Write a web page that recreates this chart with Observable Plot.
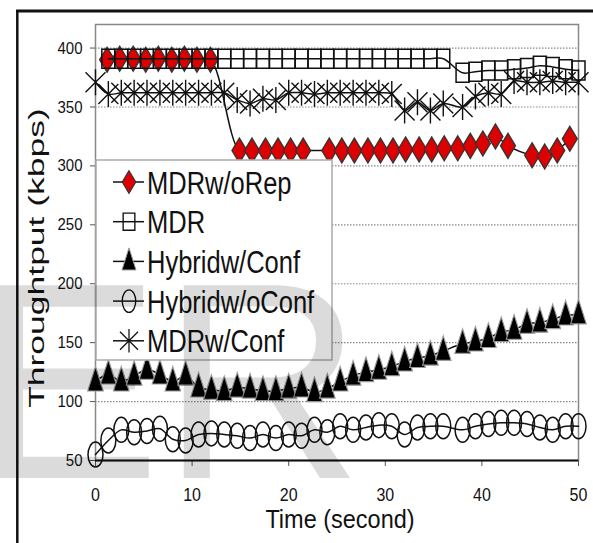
<!DOCTYPE html>
<html><head><meta charset="utf-8">
<script src="https://cdn.jsdelivr.net/npm/d3@7"></script>
<script src="https://cdn.jsdelivr.net/npm/@observablehq/plot@0.6"></script>
<style>
html,body{margin:0;padding:0;background:#fff;}
#chart{position:relative;width:593px;height:543px;overflow:hidden;}
</style></head><body><div id="chart"></div>
<script>
// ---- data ----
const seriesNames = ["MDRw/oRep", "MDR", "Hybridw/Conf", "Hybridw/oConf", "MDRw/Conf"];
const timeGrid = [0,1.33,2.67,4,5.33,6.67,8,9.33,10.67,12,13.33,14.67,16,17.33,18.67,20,21.33,22.67,24,25.33,26.67,28,29.33,30.67,32,33.33,34.67,36,38,39.33,40.67,42,43.33,44.67,46,47.33,48.67,50];
const mdrWoRepTime = [1.2,2.5,3.9,5.2,6.5,7.9,9.2,10.5,11.9,14.9,16.2,17.6,18.9,20.2,21.5,24.2,25.5,26.8,28.2,29.5,30.8,32.1,33.5,34.8,36.1,37.5,38.8,40.1,41.4,42.7,45.2,46.5,47.8,49.1];
const mdrWoRepValues = [390,391,391,390,391,390,391,390,390,313,313,313,313,313,313,313,313,313,313,313,313,314,314,314,315,315,317,319,325,317,309,308,313,323];
const mdrValues = [null,391,391,391,391,391,391,391,391,391,391,391,391,391,391,391,391,391,391,391,391,391,391,391,391,391,391,391,379,380,381,381,382,383,385,384,382,381];
const hybridConfValues = [117,123,117,122,127,123,117,122,112,110,109,112,111,109,109,111,112,108,111,117,122,125,127,130,134,137,139,143,149,151,154,159,161,166,167,170,173,174];
const hybridWoConfValues = [55,67,76,74,75,77,68,67,72,73,72,71,69,72,69,72,71,76,74,79,76,78,80,79,72,78,79,79,76,79,81,82,82,81,78,76,79,79];
const mdrConfValues = [371,361,362,362,362,362,362,362,362,362,362,356,353,357,356,362,362,361,362,362,362,362,362,361,347,354,347,353,350,359,362,361,372,371,371,372,371,371];
const xTicks = [0,10,20,30,40,50];
const yTicks = [50,100,150,200,250,300,350,400];
const gridTicks = [100,150,200,250,300,350,400];

// ---- marker shapes (tall, like the stretched original) ----
const diamondSym = {draw(c){c.moveTo(0,-12.5);c.lineTo(7.5,0);c.lineTo(0,12.5);c.lineTo(-7.5,0);c.closePath();}};
const squareSym = {draw(c){c.moveTo(-6.5,-9.5);c.lineTo(6.5,-9.5);c.lineTo(6.5,9.5);c.lineTo(-6.5,9.5);c.closePath();}};
const triangleSym = {draw(c){c.moveTo(0,-15);c.lineTo(7.8,9.5);c.lineTo(-7.8,9.5);c.closePath();}};
const ellipseSym = {draw(c){const rx=7.5, ry=12.5, k=0.5523;
  c.moveTo(rx,0);
  c.bezierCurveTo(rx,ry*k,rx*k,ry,0,ry);
  c.bezierCurveTo(-rx*k,ry,-rx,ry*k,-rx,0);
  c.bezierCurveTo(-rx,-ry*k,-rx*k,-ry,0,-ry);
  c.bezierCurveTo(rx*k,-ry,rx,-ry*k,rx,0);
  c.closePath();}};
const asteriskSym = {draw(c){c.moveTo(0,-13);c.lineTo(0,13);c.moveTo(-10,-10);c.lineTo(10,10);c.moveTo(10,-10);c.lineTo(-10,10);}};

const toRows = (times, values) => times.map((t, i) => ({t, v: values[i]}));
const dRep = toRows(mdrWoRepTime, mdrWoRepValues);
const dMdr = toRows(timeGrid, mdrValues);
const dHyb = toRows(timeGrid, hybridConfValues);
const dHybWo = toRows(timeGrid, hybridWoConfValues);
const dConf = toRows(timeGrid, mdrConfValues);

const styles = [
  {sym: diamondSym, fill: "#dd0000", stroke: "#333", sw: 1.3},
  {sym: squareSym, fill: "none", stroke: "#111", sw: 1.5},
  {sym: triangleSym, fill: "#000", stroke: "#999", sw: 1.1},
  {sym: ellipseSym, fill: "none", stroke: "#111", sw: 1.5},
  {sym: asteriskSym, fill: "none", stroke: "#111", sw: 1.4}
];
const datasets = [dRep, dMdr, dHyb, dHybWo, dConf];

const seriesMarks = [];
datasets.forEach((d, i) => {
  const s = styles[i];
  seriesMarks.push(Plot.line(d, {x: "t", y: "v", stroke: "#111", strokeWidth: 1.5, curve: "catmull-rom"}));
  seriesMarks.push(Plot.dot(d, {x: "t", y: "v", symbol: s.sym, r: 4, fill: s.fill, stroke: s.stroke, strokeWidth: s.sw}));
});

const chart = Plot.plot({
  width: 593, height: 543,
  marginTop: 24, marginRight: 15, marginBottom: 83, marginLeft: 95,
  style: {fontFamily: "'Liberation Sans', Arial, sans-serif", background: "white", color: "#111", overflow: "visible"},
  x: {domain: [0, 50]},
  y: {domain: [50, 420]},
  marks: [
    Plot.gridY(gridTicks, {stroke: "#888", strokeOpacity: 1, strokeDasharray: "1.5,1.5", strokeWidth: 1.2}),
    Plot.frame({stroke: "#888", strokeWidth: 1.5}),
    Plot.axisY(yTicks, {tickSize: 5, tickPadding: 8, fontSize: 15, label: null, stroke: "#555"}),
    Plot.axisX(xTicks, {tickSize: 6, tickPadding: 21, fontSize: 16, label: null, stroke: "#555"}),
    Plot.ruleY([50], {stroke: "#111", strokeWidth: 2}),
    ...seriesMarks
  ]
});
document.getElementById("chart").appendChild(chart);

const svg = d3.select(chart);
// condensed-looking tick labels: stretch vertically
svg.selectAll('g[aria-label="x-axis tick label"] text, g[aria-label="y-axis tick label"] text').each(function() {
  const el = d3.select(this);
  const tr = el.attr("transform");
  if (tr) el.attr("transform", tr + " scale(1,1.15)");
});

const font = "'Liberation Sans', Arial, sans-serif";
// axis titles
svg.append("text").attr("transform", "translate(340,528) scale(1,1.1)")
  .attr("text-anchor", "middle").attr("font-family", font).attr("font-size", 23.5).attr("fill", "#111")
  .text("Time (second)");
svg.append("text").attr("transform", "translate(44,258) rotate(-90) scale(1.65,1)")
  .attr("text-anchor", "middle").attr("font-family", font).attr("font-size", 21.5).attr("fill", "#111")
  .text("Throughtput (kbps)");

// legend
const lg = svg.append("g");
lg.append("rect").attr("x", 96).attr("y", 160).attr("width", 236).attr("height", 200)
  .attr("fill", "#fff").attr("stroke", "#aaa").attr("stroke-width", 1.5);
seriesNames.forEach((name, i) => {
  const y = 182 + i * 39.7;
  const s = styles[i];
  lg.append("line").attr("x1", 113).attr("x2", 144).attr("y1", y).attr("y2", y).attr("stroke", "#111").attr("stroke-width", 1.5);
  const p = d3.path(); s.sym.draw(p, 0);
  lg.append("path").attr("d", p.toString()).attr("transform", `translate(129,${y}) scale(0.9)`)
    .attr("fill", s.fill).attr("stroke", s.stroke).attr("stroke-width", s.sw);
  lg.append("text").attr("transform", `translate(147,${y + 11.5}) scale(1,1.25)`)
    .attr("text-anchor", "start")
    .attr("font-family", font).attr("font-size", 25.5).attr("fill", "#111").text(name);
});

// outer figure frame
svg.append("line").attr("x1", 16).attr("x2", 600).attr("y1", 11).attr("y2", 11).attr("stroke", "#111").attr("stroke-width", 3);
svg.append("line").attr("x1", 17.3).attr("x2", 17.3).attr("y1", 10).attr("y2", 560).attr("stroke", "#111").attr("stroke-width", 2.5);

// watermark
svg.append("text").attr("x", -26).attr("y", 478).attr("text-anchor", "start").attr("font-family", font).attr("font-size", 280)
  .attr("fill", "#000").attr("fill-opacity", 0.14).attr("pointer-events", "none").text("ER");
</script></body></html>
